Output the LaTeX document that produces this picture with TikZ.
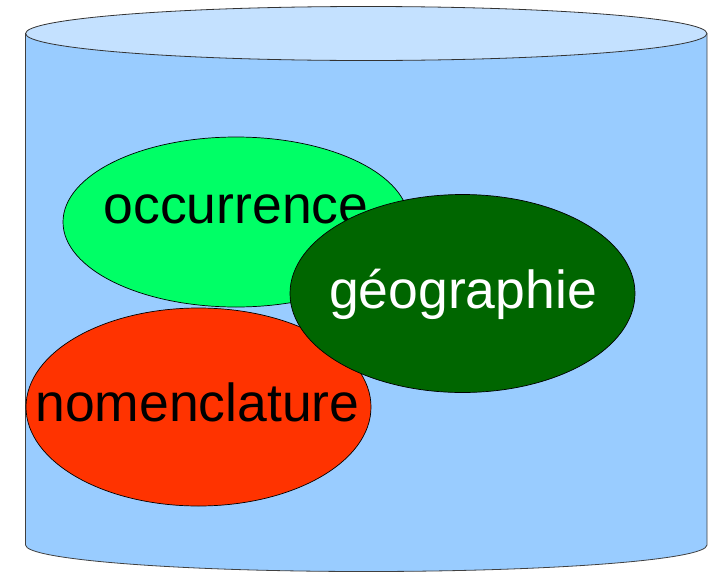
\documentclass[tikz,border=0pt]{standalone}
\usepackage{fontspec}
\setmainfont{Liberation Sans}
\usepackage{tikz}
\usepackage{xcolor}
\usetikzlibrary{shapes.geometric}

\definecolor{cylside}{HTML}{99CCFF}
\definecolor{cyltop}{HTML}{C4E1FF}
\definecolor{occgreen}{HTML}{00FF66}
\definecolor{geogreen}{HTML}{006600}
\definecolor{nomred}{HTML}{FF3300}

\begin{document}
\begin{tikzpicture}[x=1pt,y=-1pt,
  blob/.style={ellipse,draw=black,line width=0.7pt,inner sep=0pt,outer sep=0pt},
  word/.style={anchor=base,inner sep=0pt,font=\fontsize{53.5}{64}\selectfont}]
\useasboundingbox (0,0) rectangle (717,573);
% cylinder body
\fill[cylside] (25.5,33.5) -- (25.5,545) arc[start angle=180,end angle=0,x radius=340.75,y radius=26.5] -- (707,33.5) -- cycle;
\draw[black!75,line width=0.8pt] (25.5,33.5) -- (25.5,545) arc[start angle=180,end angle=0,x radius=340.75,y radius=26.5] -- (707,33.5);
\filldraw[fill=cyltop,draw=black!80,line width=0.8pt] (366.25,33.5) ellipse[x radius=340.75,y radius=27];
% sets
\node[blob,fill=occgreen,minimum width=346,minimum height=170] (occ) at (236,222) {};
\node[word] (occtext) at (236,223) {occurrence};
\node[blob,fill=nomred,minimum width=345,minimum height=198] (nom) at (198.5,407) {};
\node[word] (nomtext) at (197.5,421) {nomenclature};
\node[blob,fill=geogreen,minimum width=345,minimum height=198] (geo) at (462.5,293.5) {};
\node[word,text=white] (geotext) at (463,308) {géographie};
\end{tikzpicture}
\end{document}
